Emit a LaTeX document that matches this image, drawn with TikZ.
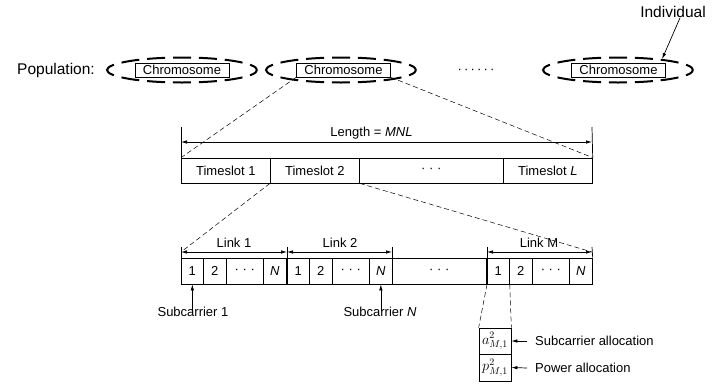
\documentclass[tikz,border=0pt]{standalone}
\usepackage{fontspec}
\setmainfont{Liberation Sans}
\usetikzlibrary{arrows.meta,shapes.geometric}

\tikzset{
  txt/.style={inner sep=0pt, font=\fontsize{13}{15}\selectfont},
  bigtxt/.style={inner sep=0pt, font=\fontsize{15.5}{18}\selectfont},
  chrom/.style={draw, line width=0.6pt, inner sep=0pt, minimum width=94pt,
    minimum height=14pt, font=\fontsize{13}{15}\selectfont},
  indiv/.style={draw, ellipse, line width=2pt, dash pattern=on 18pt off 7.9pt,
    dash phase=9pt, inner sep=0pt, minimum width=150pt, minimum height=25pt},
  guide/.style={line width=0.5pt, dash pattern=on 5pt off 3pt},
  slot/.style={draw, line width=0.7pt, inner sep=0pt, minimum height=25pt,
    anchor=west, font=\fontsize{13}{15}\selectfont},
  cell/.style={draw, line width=0.7pt, inner sep=0pt, minimum height=26pt,
    anchor=west, font=\fontsize{13}{15}\selectfont},
  vbox/.style={draw, line width=0.7pt, inner sep=0pt, minimum width=32pt,
    font=\fontsize{14}{16}\selectfont},
  tip/.style={-{Latex[length=6pt,width=3.5pt]}, line width=0.7pt},
  both/.style={{Latex[length=6pt,width=3.5pt]}-{Latex[length=6pt,width=3.5pt]}, line width=0.7pt},
  tick/.style={line width=0.7pt}
}

\begin{document}
\begin{tikzpicture}[x=1pt,y=-1pt]
\useasboundingbox (0,0) rectangle (720,386);

% population of individuals
\node[bigtxt] (poplabel) at (56,70) {Population:};
\node[indiv] (pop1) at (182,70) {};
\node[indiv] (pop2) at (341,70) {};
\node[indiv] (pop3) at (618,70) {};
\node[chrom] (chr1) at (182,70) {Chromosome};
\node[chrom] (chr2) at (343.5,70) {Chromosome};
\node[chrom] (chr3) at (618.5,70) {Chromosome};
\node[txt] (popdots) at (476,71) {·\,·\,·\,·\,·\,·};
\node[bigtxt] (ind) at (673,12) {Individual};
\draw[tip] ([xshift=7pt]ind.south) -- (pop3.14);

% timeslot row
\node[slot, minimum width=89pt] (ts1) at (181,170.5) {Timeslot 1};
\node[slot, minimum width=89pt] (ts2) at (270,170.5) {Timeslot 2};
\node[slot, minimum width=144pt] (tsd) at (359,170.5) {· · ·};
\node[slot, minimum width=89pt] (tsL) at (503,170.5) {Timeslot \textit{L}};

\coordinate (lenL) at (181,127);
\coordinate (lenR) at (592,127);
\draw[tick] (ts1.north west) -- (lenL);
\draw[tick] (tsL.north east) -- (lenR);
\coordinate (arL) at (181,142);
\coordinate (arR) at (592,142);
\draw[both] (arL) -- (arR);
\node[txt] (len) at (371.5,133) {Length = \textit{MNL}};

\draw[guide] (chr2.south west) -- (ts1.north west);
\draw[guide] (chr2.south east) -- (tsL.north east);

% subcarrier row, grouped by link
\foreach \g/\x in {1/181, 2/287, M/487}{
  \node[cell, minimum width=22pt] (c\g-1) at (\x,271) {1};
  \node[cell, minimum width=23pt] (c\g-2) at (\x+22,271) {2};
  \node[cell, minimum width=37pt] (c\g-3) at (\x+45,271) {· · ·};
  \node[cell, minimum width=23pt] (c\g-4) at (\x+82,271) {\textit{N}};
}
\node[cell, minimum width=94pt] (gap) at (392,271) {· · ·};

\foreach \k/\x in {0/181, 1/287, 2/392, 3/487, 4/592}{
  \coordinate (k\k) at (\x,247);
  \coordinate (a\k) at (\x,252);
}
\draw[tick] (c1-1.north west) -- (k0);
\draw[tick] (c2-1.north west) -- (k1);
\draw[tick] (gap.north west) -- (k2);
\draw[tick] (cM-1.north west) -- (k3);
\draw[tick] (cM-4.north east) -- (k4);
\draw[both] (a0) -- (a1);
\draw[both] (a1) -- (a2);
\draw[both] (a3) -- (a4);
\node[txt] (lk1) at (234,243) {Link 1};
\node[txt] (lk2) at (340,243) {Link 2};
\node[txt] (lkM) at (539,243) {Link M};

\draw[guide] (ts2.south west) -- (a0);
\draw[guide] (ts2.south east) -- (a4);

% subcarrier markers
\node[txt] (sc1) at (193,312) {Subcarrier 1};
\node[txt] (scN) at (380,312) {Subcarrier \textit{N}};
\draw[tip] ([yshift=-4pt]sc1.north -| c1-1.south) -- (c1-1.south);
\draw[tip] ([yshift=-4pt]scN.north -| c2-4.south) -- (c2-4.south);

% variables carried by one subcarrier
\node[vbox, minimum height=26pt] (am) at (495,341) {$a^{2}_{M,1}$};
\node[vbox, minimum height=27pt] (pm) at (495,367.5) {$p^{2}_{M,1}$};
\draw[guide] (cM-1.south west) -- (am.north west);
\draw[guide] (cM-1.south east) -- (am.north east);
\node[txt, anchor=west] (sa) at (535,341) {Subcarrier allocation};
\node[txt, anchor=west] (pa) at (535,368) {Power allocation};
\draw[tip] ([xshift=-8pt]sa.west) -- (am.east);
\draw[tip] ([xshift=-8pt]pa.west) -- (pm.east);
\end{tikzpicture}
\end{document}
